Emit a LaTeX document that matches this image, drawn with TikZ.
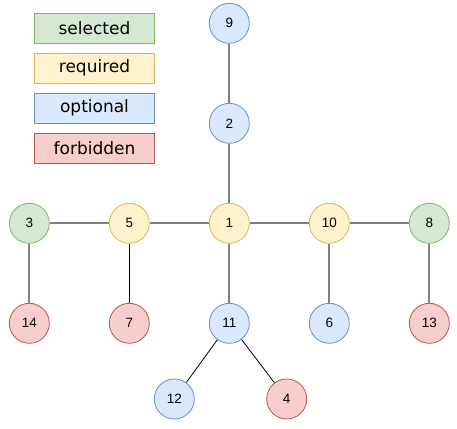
\documentclass[tikz,border=0pt]{standalone}
\usepackage{fontspec}
\setmainfont{Liberation Sans}
\newfontfamily\legendfont{DejaVu Sans}
\definecolor{gfill}{HTML}{D5E8D4}\definecolor{gdraw}{HTML}{82B366}
\definecolor{yfill}{HTML}{FFF2CC}\definecolor{ydraw}{HTML}{D6B656}
\definecolor{bfill}{HTML}{DAE8FC}\definecolor{bdraw}{HTML}{6C8EBF}
\definecolor{rfill}{HTML}{F8CECC}\definecolor{rdraw}{HTML}{B85450}
\definecolor{edgegray}{HTML}{808080}
\begin{document}
\begin{tikzpicture}[x=1pt,y=-1pt,
  vtx/.style={circle,minimum size=40pt,inner sep=0pt,line width=0.8pt,font=\fontsize{13.5}{15}\selectfont},
  sel/.style={vtx,fill=gfill,draw=gdraw},
  req/.style={vtx,fill=yfill,draw=ydraw},
  opt/.style={vtx,fill=bfill,draw=bdraw},
  forb/.style={vtx,fill=rfill,draw=rdraw},
  legbox/.style={rectangle,minimum width=120pt,minimum height=30pt,inner sep=0pt,line width=0.8pt,font=\legendfont\fontsize{17}{19}\selectfont},
  thick edge/.style={draw=edgegray,line width=2pt},
  thin edge/.style={draw=black,line width=0.8pt}]
\useasboundingbox (0,0) rectangle (457,428);
% legend
\node[legbox,fill=gfill,draw=gdraw] (lsel) at (94.5,28.3) {selected};
\node[legbox,fill=yfill,draw=ydraw] (lreq) at (94.5,68.3) {required};
\node[legbox,fill=bfill,draw=bdraw] (lopt) at (94.5,108.3) {optional};
\node[legbox,fill=rfill,draw=rdraw] (lforb) at (94.5,148.3) {forbidden};
% vertices
\node[opt] (n9) at (229.3,23.3) {9};
\node[opt] (n2) at (229.3,123.3) {2};
\node[req] (n1) at (229.3,223.3) {1};
\node[sel] (n3) at (29.3,223.3) {3};
\node[req] (n5) at (129.3,223.3) {5};
\node[req] (n10) at (329.3,223.3) {10};
\node[sel] (n8) at (429.3,223.3) {8};
\node[forb] (n14) at (29.3,323.3) {14};
\node[forb] (n7) at (129.3,323.3) {7};
\node[opt] (n11) at (229.3,323.3) {11};
\node[opt] (n6) at (329.3,323.3) {6};
\node[forb] (n13) at (429.3,323.3) {13};
\node[opt] (n12) at (174.3,399) {12};
\node[forb] (n4) at (286.7,399) {4};
% edges
\draw[thick edge] (n9) -- (n2);
\draw[thick edge] (n2) -- (n1);
\draw[thick edge] (n3) -- (n5);
\draw[thick edge] (n5) -- (n1);
\draw[thick edge] (n1) -- (n10);
\draw[thick edge] (n10) -- (n8);
\draw[thick edge] (n3) -- (n14);
\draw[thin edge] (n5) -- (n7);
\draw[thick edge] (n1) -- (n11);
\draw[thick edge] (n10) -- (n6);
\draw[thick edge] (n8) -- (n13);
\draw[thin edge] (n11) -- (n12);
\draw[thin edge] (n11) -- (n4);
\end{tikzpicture}
\end{document}
